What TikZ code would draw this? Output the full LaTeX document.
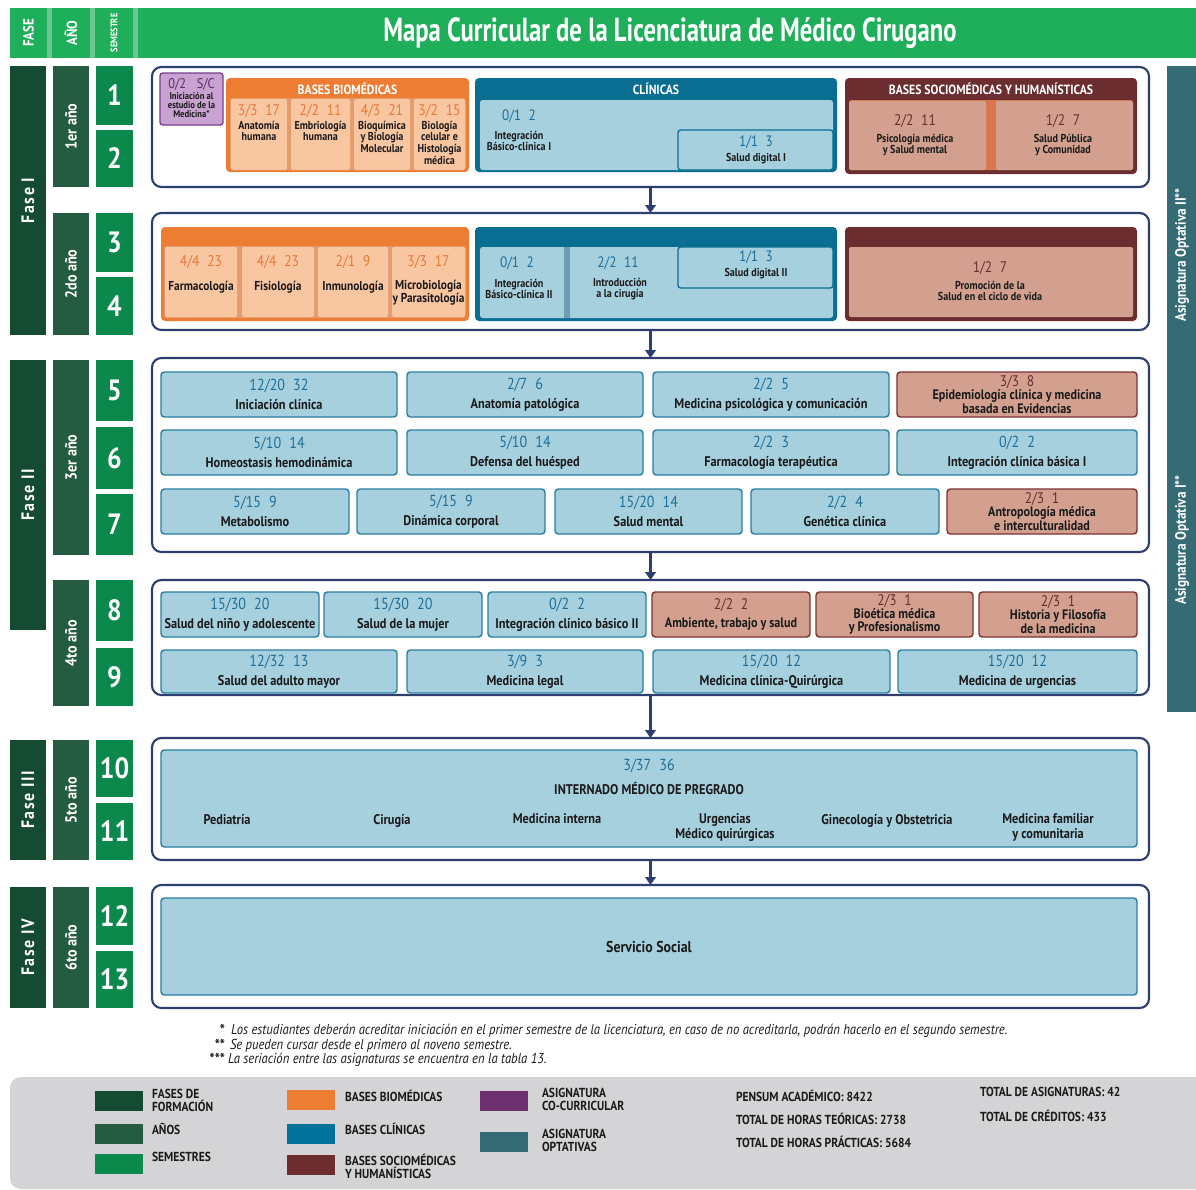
\documentclass[tikz,border=0pt]{standalone}
\usepackage{fontspec}
\setmainfont{PT Sans}[FakeStretch=0.88]
\newfontfamily\titlefont{PT Sans}[FakeStretch=0.74]
\usetikzlibrary{arrows.meta}
\definecolor{hdrgreen}{HTML}{1FAF5B}
\definecolor{hdrdiv}{HTML}{6CC78F}
\definecolor{fasec}{HTML}{154A33}
\definecolor{anoc}{HTML}{255B40}
\definecolor{semc}{HTML}{0B894D}
\definecolor{navy}{HTML}{2D3E6F}
\definecolor{blgrpc}{HTML}{0A6E93}
\definecolor{bllightc}{HTML}{A7D0DF}
\definecolor{blstripe}{HTML}{6E9DB3}
\definecolor{subjborder}{HTML}{2A7FA0}
\definecolor{numblue}{HTML}{1E6F98}
\definecolor{orgrpc}{HTML}{EE7D34}
\definecolor{orlight}{HTML}{F9C6A2}
\definecolor{orstripec}{HTML}{E39C6E}
\definecolor{numor}{HTML}{E8793A}
\definecolor{brgrpc}{HTML}{6B2D2F}
\definecolor{brlight}{HTML}{D3A08F}
\definecolor{brstripec}{HTML}{D9784E}
\definecolor{brborder}{HTML}{7A3232}
\definecolor{purfill}{HTML}{C8A2D0}
\definecolor{purborder}{HTML}{7A3D8E}
\definecolor{purtext}{HTML}{5E2A66}
\definecolor{optc}{HTML}{346B74}
\definecolor{leggrey}{HTML}{D4D4D6}
\definecolor{legpur}{HTML}{6E2F6F}
\definecolor{legblue}{HTML}{00729A}
\definecolor{txt}{HTML}{1A1A1A}
\newcommand\fs[2]{\fontsize{#1}{#2}\selectfont}
\newcommand\nb[1]{{\mdseries\fs{12}{12}\color{numblue}#1}}
\newcommand\nbr[1]{{\mdseries\fs{11.5}{11}\color{brgrpc}#1}}
\newcommand\bx[7]{\node[#2,anchor=north west,minimum width={(#5-#3)*0.75pt},minimum height={(#6-#4)*0.75pt}] (#1) at (#3,#4) {#7};}
\begin{document}
\begin{tikzpicture}[x=0.75pt,y=-0.75pt,font=\bfseries,
  every node/.style={inner sep=0pt,outer sep=0pt,text=txt},
  hdr/.style={fill=hdrgreen},
  fasebox/.style={fill=fasec},
  anobox/.style={fill=anoc},
  sembox/.style={fill=semc,text=white,font=\bfseries\fs{22}{22}},
  rot/.style={rotate=90,text=white},
  blk/.style={draw=navy,line width=1.6pt,fill=white,rounded corners=7pt},
  arr/.style={draw=navy,line width=1.6pt,-{Triangle[width=8pt,length=6pt]}},
  orgrp/.style={fill=orgrpc,rounded corners=3pt},
  orstr/.style={fill=orstripec,rounded corners=2pt},
  orcell/.style={fill=orlight,rounded corners=1.5pt},
  blgrp/.style={fill=blgrpc,rounded corners=3pt},
  bllight/.style={fill=bllightc,rounded corners=2pt},
  blsub/.style={draw=blgrpc,line width=1pt,rounded corners=2pt},
  brgrp/.style={fill=brgrpc,rounded corners=3pt},
  brstr/.style={fill=brstripec,rounded corners=2pt},
  brcell/.style={fill=brlight,rounded corners=1.5pt},
  grphead/.style={text=white,font=\bfseries\fs{10}{10}},
  small/.style={align=center,font=\bfseries\fs{8.6}{8.8}},
  mid/.style={align=center,font=\bfseries\fs{10.5}{11}},
  midb/.style={align=center,font=\bfseries\fs{9.7}{10}},
  numo/.style={font=\mdseries\fs{11.6}{11},text=numor},
  numb/.style={font=\mdseries\fs{11.3}{11},text=numblue},
  numr/.style={font=\mdseries\fs{11.5}{11},text=brgrpc},
  subj/.style={draw=subjborder,line width=1.1pt,fill=bllightc,rounded corners=2.5pt,align=center,font=\bfseries\fs{10.5}{11}},
  subjbr/.style={draw=brborder,line width=1.1pt,fill=brlight,rounded corners=2.5pt,align=center,font=\bfseries\fs{10.3}{10}},
  purp/.style={draw=purborder,line width=1pt,fill=purfill,rounded corners=2pt},
  optbar/.style={fill=optc},
  swatch/.style={minimum width=36pt,minimum height=15pt,anchor=north west},
  legtxt/.style={anchor=north west,align=left,font=\bfseries\fs{9.8}{9.8}},
  foot/.style={font=\mdseries\itshape\fs{10.8}{11},text height=7.5pt,text depth=1.5pt},
  footstar/.style={font=\bfseries\fs{11.5}{11},text height=7.5pt,text depth=1.5pt}
]
\useasboundingbox (0,0) rectangle (1196,1189);
% ---------- header ----------
\fill[hdrdiv] (10,8) rectangle (1196,58);
\bx{hF}{hdr}{10}{8}{47}{58}{}
\bx{hA}{hdr}{52}{8}{90}{58}{}
\bx{hS}{hdr}{95}{8}{133}{58}{}
\bx{hT}{hdr}{138}{8}{1196}{58}{}
\node[rot,font=\bfseries\fs{11}{11}] (hFt) at (hF.center) {FASE};
\node[rot,font=\bfseries\fs{11}{11}] (hAt) at (hA.center) {AÑO};
\node[rot,font=\bfseries\fs{7.2}{7}] (hSt) at (hS.center) {SEMESTRE};
\node[text=white,font=\titlefont\bfseries\fs{25}{25}] (title) at (670,33) {Mapa Curricular de la Licenciatura de Médico Cirugano};
% ---------- left columns ----------
\bx{f1}{fasebox}{10}{66}{46}{335}{}
\bx{f2}{fasebox}{10}{360}{46}{630}{}
\bx{f3}{fasebox}{10}{740}{46}{860}{}
\bx{f4}{fasebox}{10}{887}{46}{1008}{}
\foreach \n/\t in {f1/Fase I,f2/Fase II,f3/Fase III,f4/Fase IV}
  \node[rot,font=\bfseries\fs{13.5}{13}] (\n t) at (\n.center) {\addfontfeature{LetterSpace=9}\t};
\bx{a1}{anobox}{53}{66}{89}{187}{}
\bx{a2}{anobox}{53}{213}{89}{335}{}
\bx{a3}{anobox}{53}{360}{89}{555}{}
\bx{a4}{anobox}{53}{580}{89}{706}{}
\bx{a5}{anobox}{53}{740}{89}{860}{}
\bx{a6}{anobox}{53}{887}{89}{1008}{}
\foreach \n/\t in {a1/1er año,a2/2do año,a3/3er año,a4/4to año,a5/5to año,a6/6to año}
  \node[rot,font=\bfseries\fs{12}{12}] (\n t) at (\n.center) {\t};
\bx{s1}{sembox}{96}{66}{133}{125}{1}
\bx{s2}{sembox}{96}{130}{133}{187}{2}
\bx{s3}{sembox}{96}{213}{133}{272}{3}
\bx{s4}{sembox}{96}{277}{133}{335}{4}
\bx{s5}{sembox}{96}{360}{133}{421}{5}
\bx{s6}{sembox}{96}{427}{133}{489}{6}
\bx{s7}{sembox}{96}{494}{133}{555}{7}
\bx{s8}{sembox}{96}{580}{133}{641}{8}
\bx{s9}{sembox}{96}{648}{133}{706}{9}
\bx{s10}{sembox}{96}{740}{133}{797}{10}
\bx{s11}{sembox}{96}{803}{133}{860}{11}
\bx{s12}{sembox}{96}{887}{133}{945}{12}
\bx{s13}{sembox}{96}{951}{133}{1008}{13}
% ---------- optativa bar ----------
\bx{opt}{optbar}{1167}{66}{1196}{712}{}
\node[rot,font=\bfseries\fs{11.3}{11}] (opt2) at (1182,255) {Asignatura Optativa II**};
\node[rot,font=\bfseries\fs{11.3}{11}] (opt1) at (1182,540) {Asignatura Optativa I**};
% ---------- blocks ----------
\bx{B1}{blk}{152}{67}{1149}{187}{}
\bx{B2}{blk}{152}{213}{1149}{330}{}
\bx{B3}{blk}{152}{358}{1149}{552}{}
\bx{B4}{blk}{152}{580}{1149}{695}{}
\bx{B5}{blk}{152}{738}{1149}{860}{}
\bx{B6}{blk}{152}{885}{1149}{1008}{}
\draw[arr] (B1.south) -- (B2.north);
\draw[arr] (B2.south) -- (B3.north);
\draw[arr] (B3.south) -- (B4.north);
\draw[arr] (B4.south) -- (B5.north);
\draw[arr] (B5.south) -- (B6.north);
% ---------- block 1 ----------
\bx{cc}{purp}{160}{73}{223}{125}{}
\node[font=\mdseries\fs{10.5}{10},text=purtext] (cct) at (191.5,84) {0/2\hspace{8pt}S/C};
\node[anchor=north,align=center,font=\bfseries\fs{7.3}{7}] (ccn) at (191.5,92) {Iniciación al\\estudio de la\\Medicina*};
\bx{bb1}{orgrp}{226}{78}{469}{172}{}
\node[grphead] (bb1h) at (347.5,89) {BASES BIOMÉDICAS};
\bx{bb1s}{orstr}{230}{98}{466}{170}{}
\bx{c11}{orcell}{231}{99}{287}{170}{}
\bx{c12}{orcell}{291}{99}{350}{170}{}
\bx{c13}{orcell}{354}{99}{410}{170}{}
\bx{c14}{orcell}{414}{99}{465}{170}{}
\node[numo] (c11n) at (c11.center |- 0,111) {3/3\enspace 17};
\node[numo] (c12n) at (c12.center |- 0,111) {2/2\enspace 11};
\node[numo] (c13n) at (c13.center |- 0,111) {4/3\enspace 21};
\node[numo] (c14n) at (c14.center |- 0,111) {3/2\enspace 15};
\node[small,anchor=north] (c11t) at (c11.center |- 0,121) {Anatomía\\humana};
\node[small,anchor=north] (c12t) at (c12.center |- 0,121) {Embriología\\humana};
\node[small,anchor=north] (c13t) at (c13.center |- 0,121) {Bioquímica\\y Biología\\Molecular};
\node[small,anchor=north] (c14t) at (c14.center |- 0,121) {Biología\\celular e\\Histología\\médica};
\bx{cl1}{blgrp}{475}{78}{837}{172}{}
\node[grphead] (cl1h) at (656,89) {CLÍNICAS};
\bx{cl1i}{bllight}{480}{100}{833}{170}{}
\bx{sd1}{blsub}{678}{130}{833}{170}{}
\node[numb] (ib1n) at (519,116) {0/1\enspace 2};
\node[small] (ib1t) at (519,141) {Integración\\Básico-clínica I};
\node[numb] (sd1n) at (756,142) {1/1\enspace 3};
\node[small] (sd1t) at (756,159) {Salud digital I};
\bx{sh1}{brgrp}{845}{78}{1137}{174}{}
\node[grphead] (sh1h) at (991,89) {BASES SOCIOMÉDICAS Y HUMANÍSTICAS};
\bx{sh1s}{brstr}{849}{100}{1133}{170}{}
\bx{c15}{brcell}{849}{101}{986}{170}{}
\bx{c16}{brcell}{996}{101}{1133}{170}{}
\node[numr] (c15n) at (915,121) {2/2\enspace 11};
\node[small] (c15t) at (915,145) {Psicología médica\\y Salud mental};
\node[numr] (c16n) at (1063,121) {1/2\enspace 7};
\node[small] (c16t) at (1063,145) {Salud Pública\\y Comunidad};
% ---------- block 2 ----------
\bx{bb2}{orgrp}{161}{227}{469}{321}{}
\bx{bb2s}{orstr}{164}{246}{466}{318}{}
\bx{c21}{orcell}{165}{247}{237}{317}{}
\bx{c22}{orcell}{242}{247}{314}{317}{}
\bx{c23}{orcell}{318}{247}{388}{317}{}
\bx{c24}{orcell}{392}{247}{465}{317}{}
\node[numo] (c21n) at (c21.center |- 0,262) {4/4\enspace 23};
\node[numo] (c22n) at (c22.center |- 0,262) {4/4\enspace 23};
\node[numo] (c23n) at (c23.center |- 0,262) {2/1\enspace 9};
\node[numo] (c24n) at (c24.center |- 0,262) {3/3\enspace 17};
\node[midb] (c21t) at (c21.center |- 0,287) {Farmacología};
\node[midb] (c22t) at (c22.center |- 0,287) {Fisiología};
\node[midb] (c23t) at (c23.center |- 0,287) {Inmunología};
\node[midb,anchor=north] (c24t) at (c24.center |- 0,280) {Microbiología\\y Parasitología};
\bx{cl2}{blgrp}{475}{227}{837}{321}{}
\bx{cl2i}{bllight}{480}{247}{833}{318}{}
\bx{cl2s}{fill=blstripe}{564}{247}{570}{318}{}
\bx{sd2}{blsub}{678}{247}{833}{288}{}
\node[numb] (ib2n) at (517,263) {0/1\enspace 2};
\node[small] (ib2t) at (519,289) {Integración\\Básico-clínica II};
\node[numb] (ic2n) at (618,263) {2/2\enspace 11};
\node[small] (ic2t) at (620,289) {Introducción\\a la cirugía};
\node[numb] (sd2n) at (756,257) {1/1\enspace 3};
\node[small] (sd2t) at (756,274) {Salud digital II};
\bx{sh2}{brgrp}{845}{227}{1137}{321}{}
\bx{c25}{brcell}{849}{247}{1133}{317}{}
\node[numr] (c25n) at (990,268) {1/2\enspace 7};
\node[small] (c25t) at (990,291) {Promoción de la\\Salud en el ciclo de vida};
% ---------- block 3 ----------
\bx{p51}{subj}{161}{372}{397}{417}{\nb{12/20\enspace 32}\\[3pt]Iniciación clínica}
\bx{p52}{subj}{407}{372}{643}{417}{\nb{2/7\enspace 6}\\[3pt]Anatomía patológica}
\bx{p53}{subj}{653}{372}{889}{417}{\nb{2/2\enspace 5}\\[3pt]Medicina psicológica y comunicación}
\bx{p54}{subjbr}{897}{372}{1137}{417}{\nbr{3/3\enspace 8}\\Epidemiología clínica y medicina\\basada en Evidencias}
\bx{p61}{subj}{161}{430}{397}{475}{\nb{5/10\enspace 14}\\[3pt]Homeostasis hemodinámica}
\bx{p62}{subj}{407}{430}{643}{475}{\nb{5/10\enspace 14}\\[3pt]Defensa del huésped}
\bx{p63}{subj}{653}{430}{889}{475}{\nb{2/2\enspace 3}\\[3pt]Farmacología terapéutica}
\bx{p64}{subj}{897}{430}{1137}{475}{\nb{0/2\enspace 2}\\[3pt]Integración clínica básica I}
\bx{p71}{subj}{161}{489}{349}{534}{\nb{5/15\enspace 9}\\[3pt]Metabolismo}
\bx{p72}{subj}{357}{489}{545}{534}{\nb{5/15\enspace 9}\\[3pt]Dinámica corporal}
\bx{p73}{subj}{555}{489}{742}{534}{\nb{15/20\enspace 14}\\[3pt]Salud mental}
\bx{p74}{subj}{751}{489}{939}{534}{\nb{2/2\enspace 4}\\[3pt]Genética clínica}
\bx{p75}{subjbr}{947}{489}{1137}{534}{\nbr{2/3\enspace 1}\\Antropología médica\\e interculturalidad}
% ---------- block 4 ----------
\bx{p81}{subj}{161}{592}{319}{637}{\nb{15/30\enspace 20}\\[3pt]Salud del niño y adolescente}
\bx{p82}{subj}{324}{592}{482}{637}{\nb{15/30\enspace 20}\\[3pt]Salud de la mujer}
\bx{p83}{subj}{488}{592}{646}{637}{\nb{0/2\enspace 2}\\[3pt]Integración clínico básico II}
\bx{p84}{subjbr}{652}{592}{810}{637}{\nbr{2/2\enspace 2}\\[4pt]Ambiente, trabajo y salud}
\bx{p85}{subjbr}{816}{592}{973}{637}{\nbr{2/3\enspace 1}\\Bioética médica\\y Profesionalismo}
\bx{p86}{subjbr}{979}{592}{1137}{637}{\nbr{2/3\enspace 1}\\Historia y Filosofía\\de la medicina}
\bx{p91}{subj}{161}{650}{397}{693}{\nb{12/32\enspace 13}\\[3pt]Salud del adulto mayor}
\bx{p92}{subj}{407}{650}{643}{693}{\nb{3/9\enspace 3}\\[3pt]Medicina legal}
\bx{p93}{subj}{653}{650}{890}{693}{\nb{15/20\enspace 12}\\[3pt]Medicina clínica-Quirúrgica}
\bx{p94}{subj}{898}{650}{1137}{693}{\nb{15/20\enspace 12}\\[3pt]Medicina de urgencias}
% ---------- block 5 ----------
\bx{intb}{subj}{161}{750}{1137}{847}{}
\node[font=\mdseries\fs{12}{12},text=numblue] (intn) at (649,766) {3/37\enspace 36};
\node[mid] (intt) at (649,788) {INTERNADO MÉDICO DE PREGRADO};
\node[mid,anchor=north] (i1) at (227,814) {Pediatría};
\node[mid,anchor=north] (i2) at (392,814) {Cirugía};
\node[mid,anchor=north] (i3) at (557,814) {Medicina interna};
\node[mid,anchor=north] (i4) at (725,814) {Urgencias\\Médico quirúrgicas};
\node[mid,anchor=north] (i5) at (887,814) {Ginecología y Obstetricia};
\node[mid,anchor=north] (i6) at (1048,814) {Medicina familiar\\y comunitaria};
% ---------- block 6 ----------
\bx{ssb}{subj}{161}{898}{1137}{995}{\fs{11.8}{12}Servicio Social}
% ---------- footnotes ----------
\node[footstar,anchor=east] (fs1) at (225,1031) {*};
\node[foot,anchor=west] (ft1) at (231,1030) {Los estudiantes deberán acreditar iniciación en el primer semestre de la licenciatura, en caso de no acreditarla, podrán hacerlo en el segundo semestre.};
\node[footstar,anchor=east] (fs2) at (225,1046) {**};
\node[foot,anchor=west] (ft2) at (230,1045) {Se pueden cursar desde el primero al noveno semestre.};
\node[footstar,anchor=east] (fs3) at (225,1060) {***};
\node[foot,anchor=west] (ft3) at (228,1059) {La seriación entre las asignaturas se encuentra en la tabla 13.};
% ---------- legend ----------
\fill[leggrey,rounded corners=8pt] (10,1077) rectangle (1210,1189);
\node[swatch,fill=fasec] (lg1) at (95,1091) {};
\node[swatch,fill=anoc] (lg2) at (95,1124) {};
\node[swatch,fill=semc] (lg3) at (95,1154) {};
\node[legtxt] (lt1) at (152,1089) {FASES DE\\FORMACIÓN};
\node[legtxt] (lt2) at (152,1123) {AÑOS};
\node[legtxt] (lt3) at (152,1152) {SEMESTRES};
\node[swatch,fill=orgrpc] (lg4) at (287,1090) {};
\node[swatch,fill=legblue] (lg5) at (287,1124) {};
\node[swatch,fill=brgrpc] (lg6) at (287,1155) {};
\node[legtxt] (lt4) at (345,1090) {BASES BIOMÉDICAS};
\node[legtxt] (lt5) at (345,1123) {BASES CLÍNICAS};
\node[legtxt] (lt6) at (345,1154) {BASES SOCIOMÉDICAS\\Y HUMANÍSTICAS};
\node[swatch,fill=legpur] (lg7) at (480,1091) {};
\node[swatch,fill=optc] (lg8) at (480,1132) {};
\node[legtxt] (lt7) at (542,1088) {ASIGNATURA\\CO-CURRICULAR};
\node[legtxt] (lt8) at (542,1129) {ASIGNATURA\\OPTATIVAS};
\node[legtxt] (lt9) at (736,1090) {PENSUM ACADÉMICO: 8422};
\node[legtxt] (lt10) at (736,1113) {TOTAL DE HORAS TEÓRICAS: 2738};
\node[legtxt] (lt11) at (736,1136) {TOTAL DE HORAS PRÁCTICAS: 5684};
\node[legtxt] (lt12) at (980,1087) {TOTAL DE ASIGNATURAS: 42};
\node[legtxt] (lt13) at (980,1110) {TOTAL DE CRÉDITOS: 433};
\end{tikzpicture}
\end{document}
